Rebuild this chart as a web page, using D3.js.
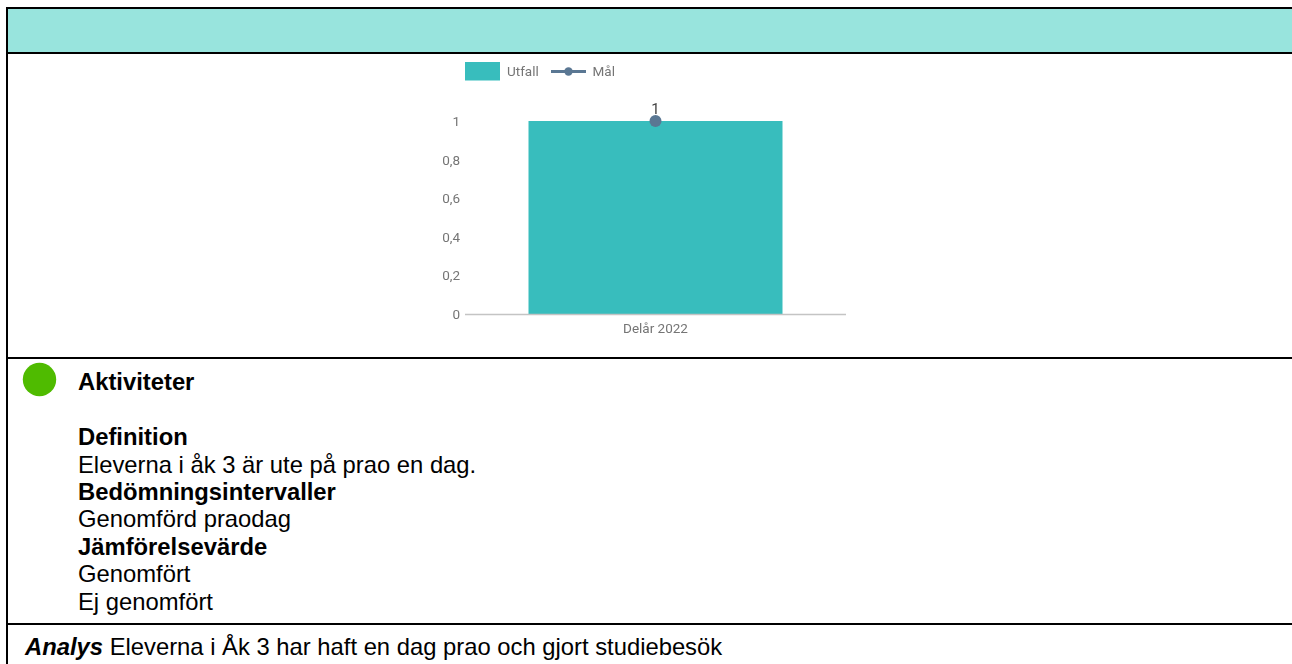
<!DOCTYPE html>
<html><head><meta charset="utf-8">
<script src="https://cdn.jsdelivr.net/npm/d3@7/dist/d3.min.js"></script>
<style>
html,body{margin:0;padding:0;background:#fff;overflow:hidden}
svg{display:block}
.doc{font-family:"Liberation Sans",Arial,sans-serif;font-size:23.8px;fill:#000}
.chart{font-family:Roboto,sans-serif;font-size:13.5px;fill:#757575}
#plot{filter:blur(0.4px)}
</style></head><body>
<svg id="c" width="1292" height="664"></svg>
<script>
const categories = ["Delår 2022"];
const outcome = [1];
const target = [1];
const yTicks = [0, 0.2, 0.4, 0.6, 0.8, 1];
const seriesNames = ["Utfall", "Mål"];
const docLines = [
  {t:"Definition", b:true, y:445},
  {t:"Eleverna i åk 3 är ute på prao en dag.", y:472.5},
  {t:"Bedömningsintervaller", b:true, y:500},
  {t:"Genomförd praodag", y:527},
  {t:"Jämförelsevärde", b:true, y:554.5},
  {t:"Genomfört", y:582},
  {t:"Ej genomfört", y:609.5}
];
const svg = d3.select("#c");
const teal = "#38bdbd", slate = "#5a7793", header = "#98e4dd";

// document frame
svg.append("rect").attr("x",7).attr("y",8).attr("width",1285).attr("height",45).attr("fill",header);
[[6,8,1292,8],[6,53,1292,53],[6,358,1292,358],[6,624,1292,624]].forEach(d=>
  svg.append("line").attr("x1",d[0]).attr("y1",d[1]).attr("x2",d[2]).attr("y2",d[3]).attr("stroke","#000").attr("stroke-width",2));
svg.append("line").attr("x1",7).attr("y1",7).attr("x2",7).attr("y2",664).attr("stroke","#000").attr("stroke-width",2);

// chart
const x = d3.scaleBand().domain(categories).range([465,846]).paddingInner(0).paddingOuter(0.25);
const y = d3.scaleLinear().domain([0,1]).range([314,121]);
const g = svg.append("g").attr("id","plot");
g.selectAll("text.yt").data(yTicks).join("text").attr("class","chart yt")
  .attr("x",460).attr("y",d=>y(d)+5).attr("text-anchor","end")
  .text(d=>String(d).replace(".",","));
g.selectAll("rect.bar").data(outcome).join("rect").attr("class","bar")
  .attr("x",(d,i)=>x(categories[i])).attr("y",d=>y(d))
  .attr("width",x.bandwidth()).attr("height",d=>y(0)-y(d)).attr("fill",teal);
g.append("line").attr("x1",465).attr("x2",846).attr("y1",y(0)+0.5).attr("y2",y(0)+0.5).attr("stroke","#c4c4c4").attr("stroke-width",1.5);
g.selectAll("text.xt").data(categories).join("text").attr("class","chart xt")
  .attr("x",d=>x(d)+x.bandwidth()/2).attr("y",333).attr("text-anchor","middle").text(d=>d);
g.selectAll("text.lbl").data(target).join("text").attr("class","chart lbl")
  .attr("x",(d,i)=>x(categories[i])+x.bandwidth()/2).attr("y",d=>y(d)-7).attr("text-anchor","middle")
  .style("fill","#444").style("font-size","15px").text(d=>d);
g.selectAll("circle.pt").data(target).join("circle").attr("class","pt")
  .attr("cx",(d,i)=>x(categories[i])+x.bandwidth()/2).attr("cy",d=>y(d)).attr("r",6).attr("fill",slate);

// legend
g.append("rect").attr("x",465).attr("y",62).attr("width",35).attr("height",18.5).attr("fill",teal);
g.append("text").attr("class","chart").attr("x",507).attr("y",76).text(seriesNames[0]);
g.append("line").attr("x1",551).attr("x2",586).attr("y1",71.5).attr("y2",71.5).attr("stroke",slate).attr("stroke-width",3);
g.append("circle").attr("cx",568.5).attr("cy",71.5).attr("r",4.2).attr("fill",slate);
g.append("text").attr("class","chart").attr("x",592.5).attr("y",76).text(seriesNames[1]);

// status + text
svg.append("circle").attr("cx",39.5).attr("cy",379.5).attr("r",16.7).attr("fill","#4fbb00");
svg.append("text").attr("class","doc").attr("x",78).attr("y",390).style("font-weight","bold").text("Aktiviteter");
svg.selectAll("text.dl").data(docLines).join("text").attr("class","doc dl")
  .attr("x",78).attr("y",d=>d.y).style("font-weight",d=>d.b?"bold":"normal").text(d=>d.t);
const a = svg.append("text").attr("class","doc").attr("x",25).attr("y",655);
a.append("tspan").style("font-weight","bold").style("font-style","italic").text("Analys");
a.append("tspan").text(" Eleverna i Åk 3 har haft en dag prao och gjort studiebesök");
</script></body></html>
